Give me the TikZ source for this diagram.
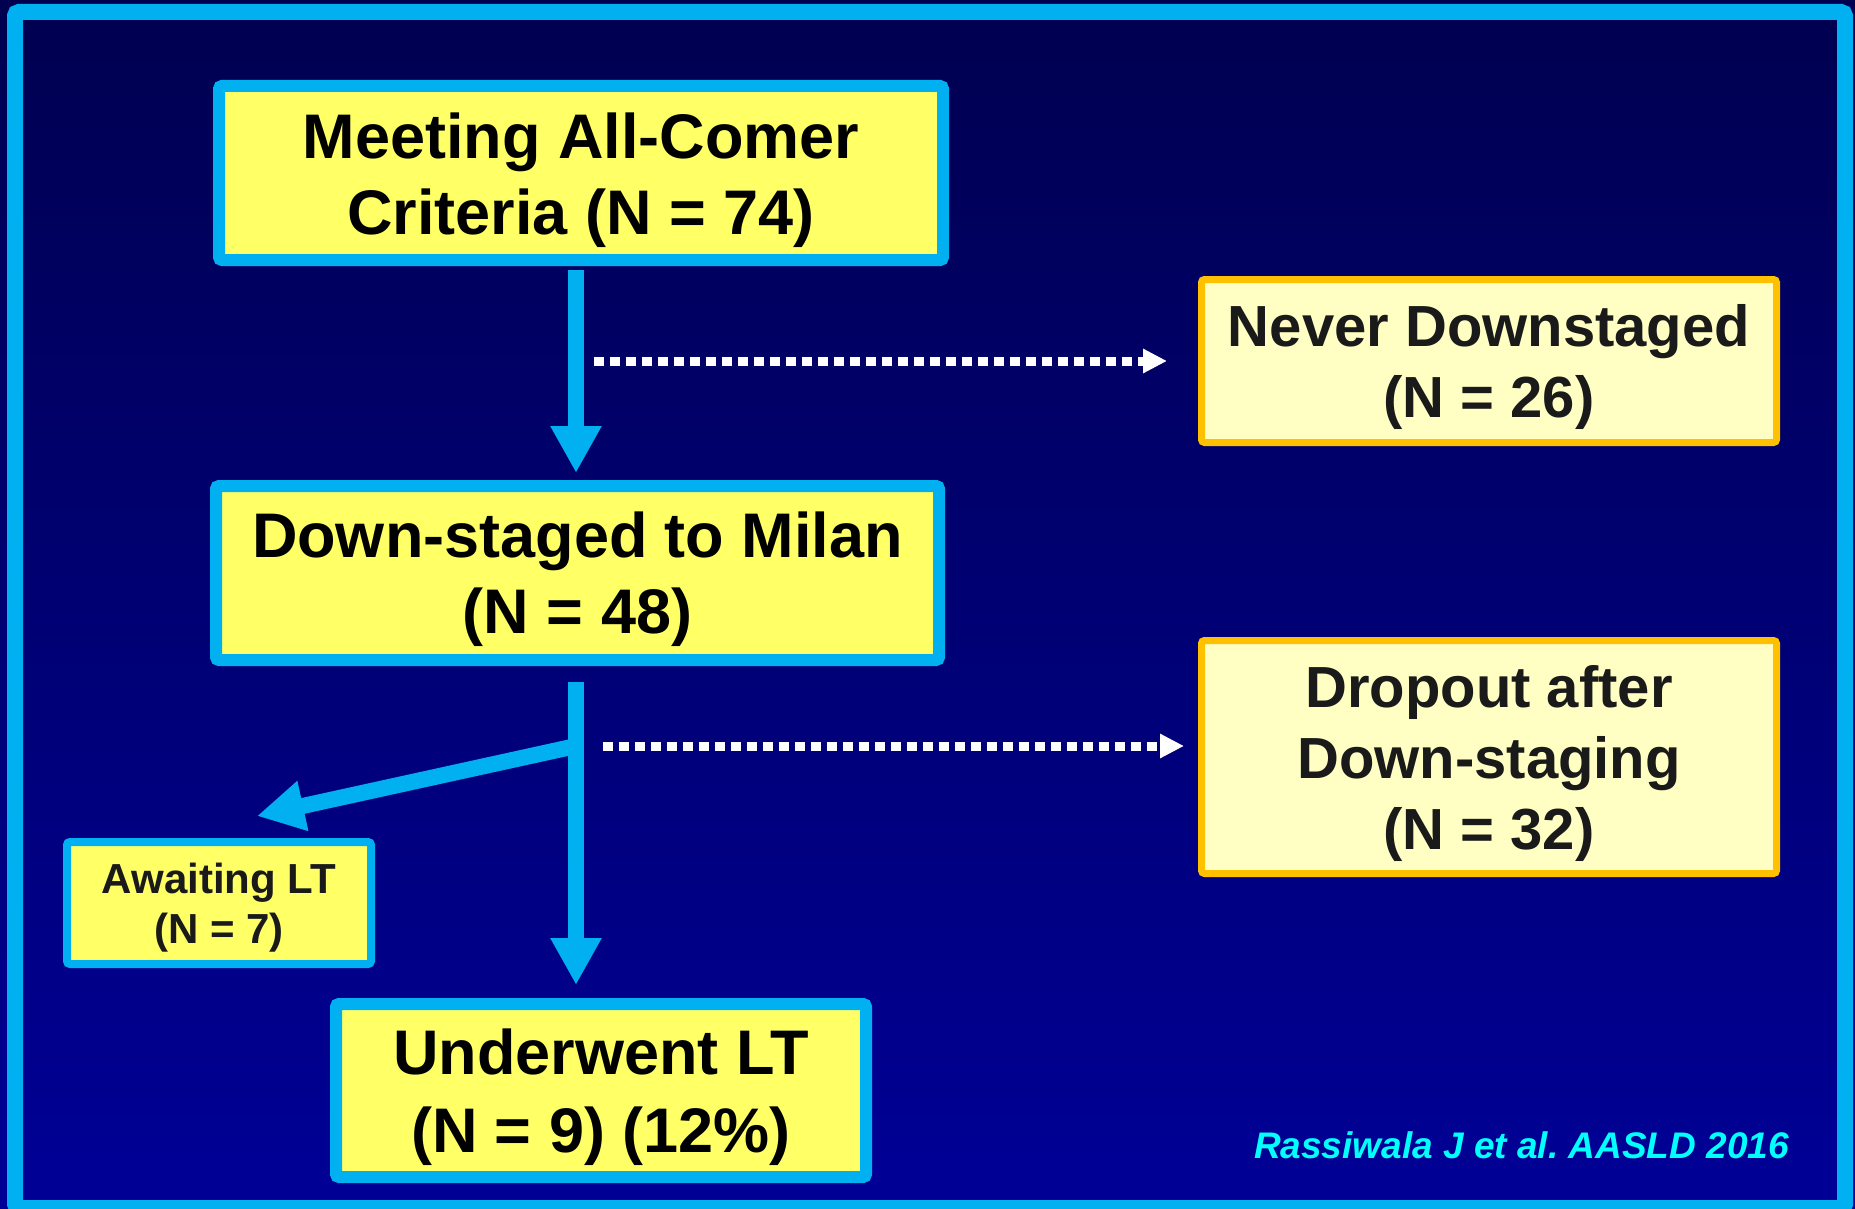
\documentclass[tikz,border=0pt]{standalone}
\usepackage{fontspec}
\setmainfont{Liberation Sans}
\usetikzlibrary{arrows.meta,calc}
\definecolor{cyanb}{HTML}{00B0F0}
\definecolor{yel}{HTML}{FFFF66}
\definecolor{lyel}{HTML}{FFFFC4}
\definecolor{orng}{HTML}{FFC000}
\definecolor{bgtop}{HTML}{000050}
\definecolor{bgbot}{HTML}{000096}
\definecolor{citec}{HTML}{00FFFF}
\definecolor{ink}{HTML}{1A1A1A}
\frenchspacing
\begin{document}
\begin{tikzpicture}[x=1pt,y=-1pt,
 mainbox/.style={draw=cyanb, fill=yel, line width=12pt, rounded corners=3pt, inner sep=0pt, align=center, font=\bfseries\fontsize{63}{76}\selectfont, text=black},
 sidebox/.style={draw=orng, fill=lyel, line width=7pt, rounded corners=3pt, inner sep=0pt, align=center, font=\bfseries\fontsize{58}{71}\selectfont, text=ink},
 smallbox/.style={draw=cyanb, fill=yel, line width=8pt, rounded corners=3pt, inner sep=0pt, align=center, font=\bfseries\fontsize{42}{50}\selectfont, text=ink},
 bigarrow/.style={draw=cyanb, line width=16pt, -{Triangle[width=48pt,length=47pt]}},
 dotarrow/.style={draw=white, line width=9pt, dash pattern=on 9.5pt off 6.5pt, -{Triangle[width=23pt,length=24pt]}}
]
\useasboundingbox (0,0) rectangle (1855,1209);
\shade[top color=bgtop, bottom color=bgbot] (0,0) rectangle (1855,1209);
\draw[cyanb, line width=16pt, rounded corners=4pt] (15,12) rectangle (1845,1208);

\node[mainbox, minimum width=724pt, minimum height=174pt] (b1) at (581,173) {\rule{0pt}{61pt}Meeting All-Comer\\Criteria (N = 74)};
\node[mainbox, minimum width=723pt, minimum height=174pt] (b2) at (577.5,573) {\rule{0pt}{59pt}Down-staged to Milan\\(N = 48)};
\node[mainbox, minimum width=530pt, minimum height=173pt, font=\bfseries\fontsize{63}{78}\selectfont] (lt) at (601,1090.5) {\rule{0pt}{60pt}Underwent LT\\(N = 9) (12\%)};
\node[smallbox, minimum width=304pt, minimum height=122pt] (aw) at (219,903) {\rule{0pt}{39pt}Awaiting LT\\(N = 7)};
\node[sidebox, minimum width=575pt, minimum height=163pt] (nev) at (1489,361) {\rule{0pt}{54pt}Never Downstaged\\(N = 26)};
\node[sidebox, minimum width=575pt, minimum height=233pt] (drop) at (1489,757) {\rule{0pt}{56pt}Dropout after\\Down-staging\\(N = 32)};

\coordinate (spine) at (576,0);
\coordinate (fork) at (576,746);
\coordinate (awtip) at (257,816);

\draw[bigarrow, shorten <=4pt, shorten >=7pt] (b1.south -| spine) -- (b2.north -| spine);
\draw[bigarrow] (fork) -- (awtip);
\draw[bigarrow, shorten <=16pt, shorten >=13pt] (b2.south -| spine) -- (lt.north -| spine);
\draw[dotarrow, shorten <=18pt, shorten >=31pt] (spine |- nev.west) -- (nev.west);
\draw[dotarrow, shorten <=27pt, shorten >=14pt] (fork) -- (fork -| drop.west);

\node[anchor=base east, text=citec, font=\bfseries\itshape\fontsize{37}{44}\selectfont, inner sep=0pt] (cite) at (1789,1158) {Rassiwala J et al. AASLD 2016};
\end{tikzpicture}
\end{document}
